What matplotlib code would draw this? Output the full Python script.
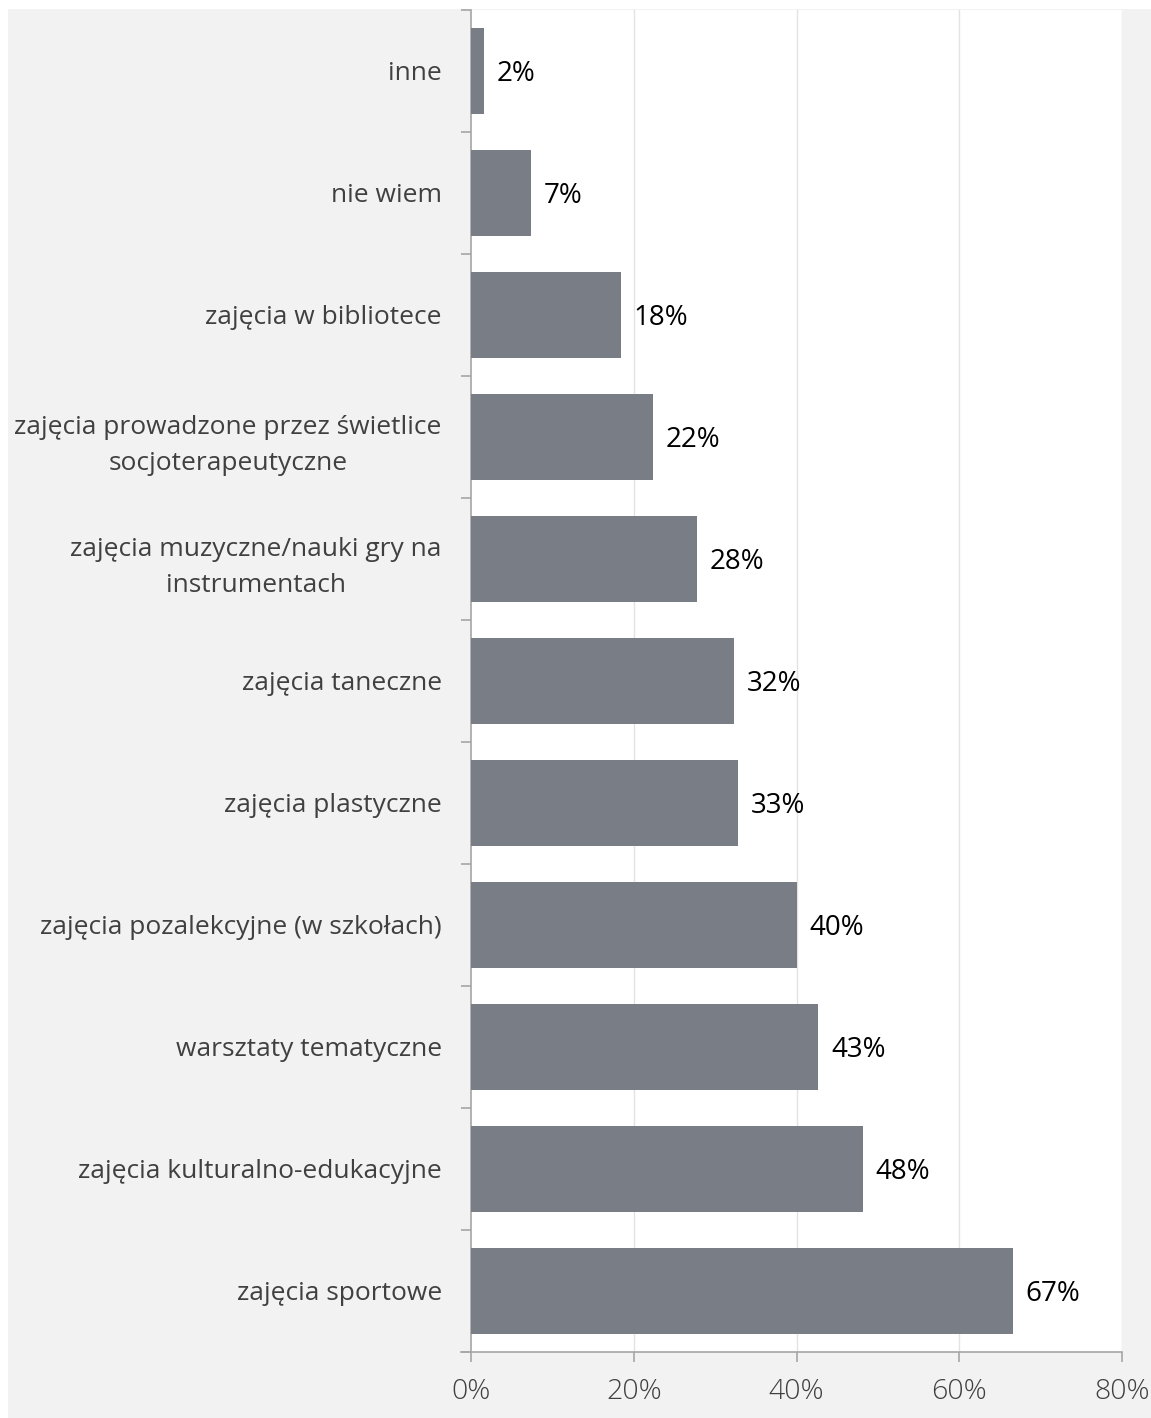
import matplotlib
matplotlib.use("Agg")
import matplotlib.pyplot as plt
from matplotlib.patches import Rectangle
import numpy as np

categories = [
    "inne",
    "nie wiem",
    "zajęcia w bibliotece",
    "zajęcia prowadzone przez świetlice\nsocjoterapeutyczne",
    "zajęcia muzyczne/nauki gry na\ninstrumentach",
    "zajęcia taneczne",
    "zajęcia plastyczne",
    "zajęcia pozalekcyjne (w szkołach)",
    "warsztaty tematyczne",
    "zajęcia kulturalno-edukacyjne",
    "zajęcia sportowe",
]
values = [1.6, 7.4, 18.4, 22.4, 27.8, 32.3, 32.8, 40.0, 42.7, 48.2, 66.6]
value_labels = ["2%", "7%", "18%", "22%", "28%", "32%", "33%", "40%", "43%", "48%", "67%"]
x_ticks = [0, 20, 40, 60, 80]
x_tick_labels = ["0%", "20%", "40%", "60%", "80%"]

W, H = 1151, 1418
DPI = 100
fig = plt.figure(figsize=(W / DPI, H / DPI), dpi=DPI, facecolor="white")

# gray chart background
fig.patches.append(Rectangle((8 / W, 0), 1 - 8 / W, 1 - 9 / H, transform=fig.transFigure,
                             facecolor="#f2f2f2", edgecolor="none", zorder=-10))

left, right = 471 / W, 1122 / W
top, bottom = 1 - 10 / H, 1 - 1352 / H
ax = fig.add_axes([left, bottom, right - left, top - bottom])
ax.set_facecolor("white")

font = "Open Sans"
y = np.arange(len(categories))
bar_color = "#797d86"
ax.barh(y, values, height=0.70, color=bar_color, zorder=3)

ax.set_xlim(0, 80)
ax.set_ylim(len(categories) - 0.5, -0.5)

# gridlines
for xv in x_ticks[1:]:
    ax.axvline(xv, color="#e3e3e3", lw=1.0, zorder=1)

for s in ["top", "right"]:
    ax.spines[s].set_visible(False)
for s in ["left", "bottom"]:
    ax.spines[s].set_color("#a6a6a6")
    ax.spines[s].set_linewidth(1.2)

ax.set_xticks(x_ticks)
ax.set_xticklabels(x_tick_labels, fontfamily=font, fontweight="light", fontsize=20.5, color="#404040")
ax.tick_params(axis="x", length=7, width=1.2, color="#a6a6a6", pad=12, direction="out")

ax.set_yticks(y)
ax.set_yticklabels(categories, fontfamily=font, fontsize=19, color="#404040",
                   multialignment="center", linespacing=1.6)
ax.tick_params(axis="y", which="major", length=0, pad=21)
ax.set_yticks(np.arange(len(categories) + 1) - 0.5, minor=True)
ax.tick_params(axis="y", which="minor", length=7, width=1.2, color="#a6a6a6", direction="out")

for yi, v, lab in zip(y, values, value_labels):
    ax.annotate(lab, (v, yi), xytext=(9, -2), textcoords="offset points",
                ha="left", va="center", fontfamily=font, fontsize=20, color="black")

# extend x axis line to the left like Excel
ax.plot([-10 / 651 * 80, 0], [len(categories) - 0.5] * 2, color="#a6a6a6", lw=1.2,
        clip_on=False, zorder=5)

fig.savefig("out.png", dpi=DPI, facecolor="white")
